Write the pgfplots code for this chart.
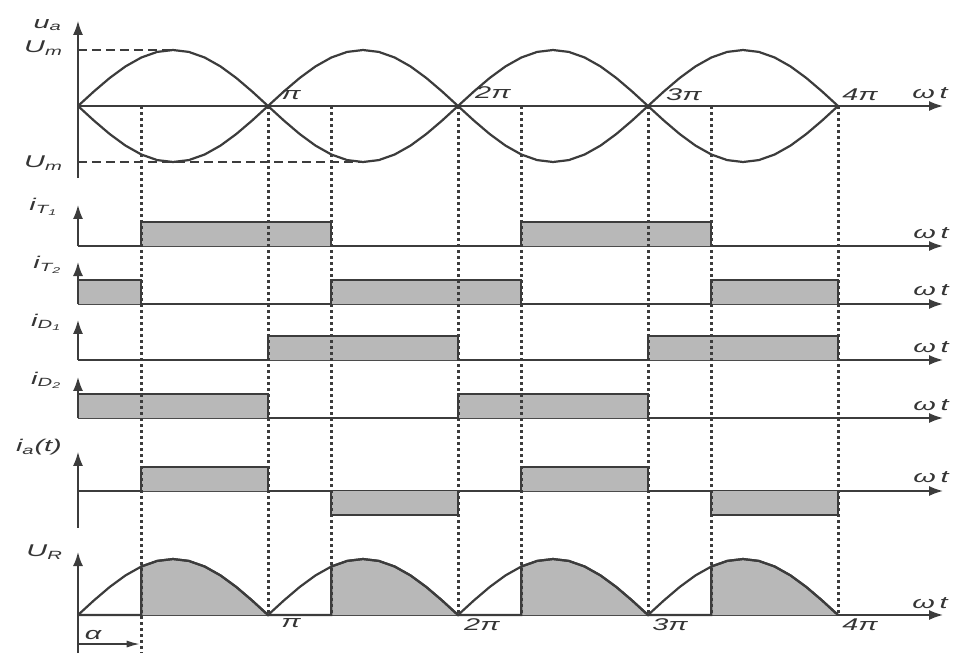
\documentclass[border=0pt]{standalone}
\usepackage{fontspec}
\setmainfont{Liberation Sans}
\usepackage{graphicx}
\usepackage{pgfplots}
\usepackage{pgfplotstable}
\pgfplotsset{compat=1.18}
\usetikzlibrary{arrows.meta}
\definecolor{ln}{HTML}{3C3C3C}
\definecolor{txt}{HTML}{353535}
\definecolor{fillc}{HTML}{B8B8B8}
\newcommand{\W}[1]{\scalebox{1.7}[1]{#1}}

\pgfplotstableread{
x ua ub ur
0 0 0 0
0.0833 0.2588 -0.2588 0.2588
0.1667 0.5 -0.5 0.5
0.25 0.7071 -0.7071 0.7071
0.3333 0.8660 -0.8660 0.8660
0.4167 0.9659 -0.9659 0.9659
0.5 1 -1 1
0.5833 0.9659 -0.9659 0.9659
0.6667 0.8660 -0.8660 0.8660
0.75 0.7071 -0.7071 0.7071
0.8333 0.5 -0.5 0.5
0.9167 0.2588 -0.2588 0.2588
1 0 0 0
1.0833 -0.2588 0.2588 0.2588
1.1667 -0.5 0.5 0.5
1.25 -0.7071 0.7071 0.7071
1.3333 -0.8660 0.8660 0.8660
1.4167 -0.9659 0.9659 0.9659
1.5 -1 1 1
1.5833 -0.9659 0.9659 0.9659
1.6667 -0.8660 0.8660 0.8660
1.75 -0.7071 0.7071 0.7071
1.8333 -0.5 0.5 0.5
1.9167 -0.2588 0.2588 0.2588
2 0 0 0
2.0833 0.2588 -0.2588 0.2588
2.1667 0.5 -0.5 0.5
2.25 0.7071 -0.7071 0.7071
2.3333 0.8660 -0.8660 0.8660
2.4167 0.9659 -0.9659 0.9659
2.5 1 -1 1
2.5833 0.9659 -0.9659 0.9659
2.6667 0.8660 -0.8660 0.8660
2.75 0.7071 -0.7071 0.7071
2.8333 0.5 -0.5 0.5
2.9167 0.2588 -0.2588 0.2588
3 0 0 0
3.0833 -0.2588 0.2588 0.2588
3.1667 -0.5 0.5 0.5
3.25 -0.7071 0.7071 0.7071
3.3333 -0.8660 0.8660 0.8660
3.4167 -0.9659 0.9659 0.9659
3.5 -1 1 1
3.5833 -0.9659 0.9659 0.9659
3.6667 -0.8660 0.8660 0.8660
3.75 -0.7071 0.7071 0.7071
3.8333 -0.5 0.5 0.5
3.9167 -0.2588 0.2588 0.2588
4 0 0 0
}\sinetab

\pgfplotstableread{
x uf
0 0
0.3333 0
0.3333 0.8660
0.4167 0.9659
0.5 1
0.5833 0.9659
0.6667 0.8660
0.75 0.7071
0.8333 0.5
0.9167 0.2588
1 0
1.3333 0
1.3333 0.8660
1.4167 0.9659
1.5 1
1.5833 0.9659
1.6667 0.8660
1.75 0.7071
1.8333 0.5
1.9167 0.2588
2 0
2.3333 0
2.3333 0.8660
2.4167 0.9659
2.5 1
2.5833 0.9659
2.6667 0.8660
2.75 0.7071
2.8333 0.5
2.9167 0.2588
3 0
3.3333 0
3.3333 0.8660
3.4167 0.9659
3.5 1
3.5833 0.9659
3.6667 0.8660
3.75 0.7071
3.8333 0.5
3.9167 0.2588
4 0
}\urfill

\pgfplotsset{
  panel/.style={
    axis lines=middle, x=190pt, xmin=0, xmax=4.553,
    enlargelimits=false, ticks=none, clip=false, anchor=origin,
    axis line style={line width=1.8pt, color=ln},
    every inner x axis line/.append style={-{Latex[length=14pt,width=10pt]}},
    every inner y axis line/.append style={-{Latex[length=14pt,width=10pt]}},
  },
  curve/.style={line width=2.2pt, color=ln, mark=none},
  pulse/.style={line width=2.2pt, draw=ln, fill=fillc, mark=none, const plot},
  dotline/.style={line width=3pt, color=ln, dash pattern=on 3pt off 3pt, mark=none},
}
\tikzset{lbl/.style={font=\fontsize{17}{19}\selectfont\itshape, text=txt, inner sep=0pt}}

\begin{document}
\begin{tikzpicture}
\path (-78pt,0pt) rectangle (884pt,-662pt);

% u_a panel
\begin{axis}[panel, at={(0pt,-106pt)}, y=56pt, ymin=-1.29, ymax=1.52]
\addplot[line width=1.7pt, color=ln, dash pattern=on 9pt off 5pt] coordinates {(0,1) (0.5,1)};
\addplot[line width=1.7pt, color=ln, dash pattern=on 9pt off 5pt] coordinates {(0,-1) (1.5,-1)};
\addplot[curve] table[x=x,y=ua]{\sinetab};
\addplot[curve] table[x=x,y=ub]{\sinetab};
\node[lbl,anchor=east] at (axis cs:-0.084,1.446) {\W{u\textsubscript{a}}};
\node[lbl,anchor=east] at (axis cs:-0.079,1.036) {\W{U\textsubscript{m}}};
\node[lbl,anchor=east] at (axis cs:-0.079,-1.018) {\W{U\textsubscript{m}}};
\node[lbl] at (axis cs:1.121,0.196) {\W{π}};
\node[lbl] at (axis cs:2.184,0.232) {\W{2π}};
\node[lbl] at (axis cs:3.189,0.196) {\W{3π}};
\node[lbl] at (axis cs:4.116,0.196) {\W{4π}};
\node[lbl] at (axis cs:4.484,0.232) {\W{ω\,t}};
\end{axis}

% i_T1
\begin{axis}[panel, at={(0pt,-246pt)}, y=24pt, ymin=0, ymax=1.71]
\addplot[pulse] coordinates {(0,0) (0.3333,1) (1.3333,0) (2.3333,1) (3.3333,0) (4,0)};
\node[lbl,anchor=east] at (axis cs:-0.105,1.625) {\W{i\textsubscript{T\textsubscript{1}}}};
\node[lbl] at (axis cs:4.49,0.54) {\W{ω\,t}};
\end{axis}

% i_T2
\begin{axis}[panel, at={(0pt,-304pt)}, y=24pt, ymin=0, ymax=1.75]
\addplot[pulse] coordinates {(0,0) (0,1) (0.3333,0) (1.3333,1) (2.3333,0) (3.3333,1) (4,0)};
\node[lbl,anchor=east] at (axis cs:-0.084,1.625) {\W{i\textsubscript{T\textsubscript{2}}}};
\node[lbl] at (axis cs:4.49,0.58) {\W{ω\,t}};
\end{axis}

% i_D1
\begin{axis}[panel, at={(0pt,-360pt)}, y=24pt, ymin=0, ymax=1.67]
\addplot[pulse] coordinates {(0,0) (1,1) (2,0) (3,1) (4,0)};
\node[lbl,anchor=east] at (axis cs:-0.084,1.58) {\W{i\textsubscript{D\textsubscript{1}}}};
\node[lbl] at (axis cs:4.49,0.54) {\W{ω\,t}};
\end{axis}

% i_D2
\begin{axis}[panel, at={(0pt,-418pt)}, y=24pt, ymin=0, ymax=1.71]
\addplot[pulse] coordinates {(0,0) (0,1) (1,0) (2,1) (3,0) (4,0)};
\node[lbl,anchor=east] at (axis cs:-0.084,1.58) {\W{i\textsubscript{D\textsubscript{2}}}};
\node[lbl] at (axis cs:4.49,0.54) {\W{ω\,t}};
\end{axis}

% i_a(t)
\begin{axis}[panel, at={(0pt,-491pt)}, y=24pt, ymin=-1.54, ymax=1.63]
\addplot[pulse] coordinates {(0,0) (0.3333,1) (1,0) (1.3333,-1) (2,0) (2.3333,1) (3,0) (3.3333,-1) (4,0)};
\node[lbl,anchor=east] at (axis cs:-0.084,1.83) {\W{i\textsubscript{a}(t)}};
\node[lbl] at (axis cs:4.49,0.58) {\W{ω\,t}};
\end{axis}

% U_R
\begin{axis}[panel, at={(0pt,-615pt)}, y=56pt, ymin=-0.68, ymax=1.125]
\addplot[line width=2.2pt, draw=ln, fill=fillc, mark=none] table[x=x,y=uf]{\urfill};
\addplot[curve] table[x=x,y=ur]{\sinetab};
\addplot[line width=1.5pt, color=ln, mark=none, -{Latex[length=13pt,width=7pt]}] coordinates {(0,-0.518) (0.325,-0.518)};
% dotted guide lines across all panels
\addplot[dotline] coordinates {(0.3333,9.089) (0.3333,-0.68)};
\addplot[dotline] coordinates {(1,9.089) (1,0)};
\addplot[dotline] coordinates {(1.3333,9.089) (1.3333,0)};
\addplot[dotline] coordinates {(2,9.089) (2,0)};
\addplot[dotline] coordinates {(2.3333,9.089) (2.3333,0)};
\addplot[dotline] coordinates {(3,9.089) (3,0)};
\addplot[dotline] coordinates {(3.3333,9.089) (3.3333,0)};
\addplot[dotline] coordinates {(4,9.089) (4,0)};
\node[lbl,anchor=east] at (axis cs:-0.079,1.125) {\W{U\textsubscript{R}}};
\node[lbl] at (axis cs:1.121,-0.143) {\W{π}};
\node[lbl] at (axis cs:2.126,-0.179) {\W{2π}};
\node[lbl] at (axis cs:3.116,-0.179) {\W{3π}};
\node[lbl] at (axis cs:4.116,-0.179) {\W{4π}};
\node[lbl] at (axis cs:4.484,0.214) {\W{ω\,t}};
\node[lbl] at (axis cs:0.079,-0.357) {\W{α}};
\end{axis}
\end{tikzpicture}
\end{document}
